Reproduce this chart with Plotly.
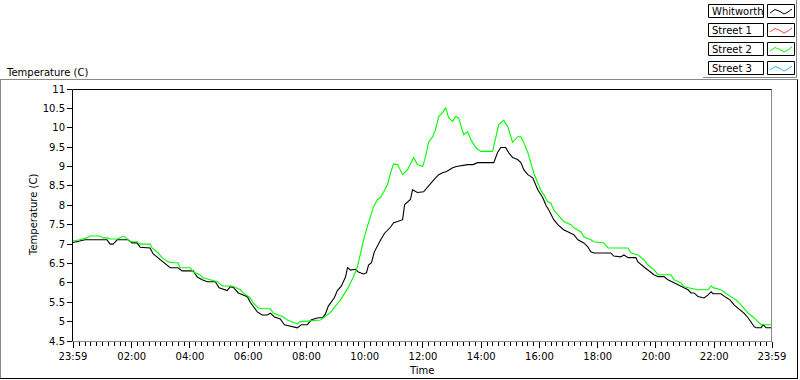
import plotly.graph_objects as go

# ---------------- data ----------------
# time in hours since midnight (-0.02 = 23:59 of previous day)
whitworth_hours = [-0.02, 0.22, 0.40, 1.15, 1.26, 1.36, 1.50, 1.87, 2.01, 2.18, 2.29, 2.63, 2.73, 2.98,
                   3.15, 3.32, 3.59, 3.73, 4.11, 4.25, 4.42, 4.59, 4.87, 5.00, 5.28, 5.38, 5.49, 5.66,
                   5.97, 6.07, 6.31, 6.48, 6.66, 6.76, 6.90, 7.10, 7.24, 7.55, 7.69, 7.82, 8.03, 8.17,
                   8.41, 8.55, 8.65, 8.75, 8.82, 8.96, 9.06, 9.20, 9.34, 9.41, 9.51, 9.68, 9.78, 9.96,
                   10.06, 10.13, 10.23, 10.33, 10.54, 10.68, 10.89, 10.99, 11.13, 11.30, 11.37, 11.57,
                   11.64, 11.81, 12.02, 12.16, 12.29, 12.43, 12.54, 12.67, 12.81, 13.02, 13.15, 13.53,
                   13.71, 13.88, 14.43, 14.56, 14.67, 14.84, 14.94, 15.08, 15.25, 15.36, 15.46, 15.60,
                   15.77, 15.94, 16.11, 16.22, 16.32, 16.39, 16.49, 16.63, 16.83, 16.97, 17.18, 17.32,
                   17.52, 17.66, 17.76, 17.87, 18.45, 18.55, 18.79, 18.90, 19.04, 19.31, 19.38, 19.59,
                   19.72, 19.93, 20.07, 20.27, 20.41, 20.62, 20.86, 21.10, 21.20, 21.31, 21.44, 21.65,
                   21.79, 21.89, 21.96, 22.23, 22.41, 22.54, 22.68, 22.82, 23.02, 23.16, 23.37, 23.44,
                   23.61, 23.68, 23.78, 23.95, 23.98]
whitworth_temp = [7.04, 7.07, 7.11, 7.11, 7.00, 7.00, 7.11, 7.11, 7.03, 7.03, 6.92, 6.90, 6.75, 6.60,
                  6.50, 6.39, 6.39, 6.31, 6.31, 6.15, 6.08, 6.03, 6.03, 5.87, 5.80, 5.90, 5.88, 5.74,
                  5.64, 5.50, 5.25, 5.17, 5.17, 5.22, 5.12, 5.07, 4.92, 4.87, 4.84, 4.92, 4.92, 5.05,
                  5.10, 5.10, 5.20, 5.40, 5.48, 5.62, 5.80, 5.92, 6.15, 6.40, 6.33, 6.35, 6.28, 6.23,
                  6.26, 6.46, 6.52, 6.80, 7.10, 7.28, 7.44, 7.55, 7.58, 7.63, 8.02, 8.15,
                  8.40, 8.33, 8.35, 8.48, 8.58, 8.71, 8.79, 8.84, 8.87, 8.97, 9.00, 9.05,
                  9.05, 9.10, 9.10, 9.36, 9.49, 9.49, 9.36, 9.23, 9.18, 9.10, 8.92, 8.79,
                  8.71, 8.40, 8.20, 8.00, 7.88, 7.76, 7.63, 7.50, 7.37, 7.32, 7.24, 7.11,
                  7.03, 6.93, 6.80, 6.77, 6.77, 6.69, 6.67, 6.72, 6.65, 6.65, 6.54, 6.41,
                  6.34, 6.21, 6.16, 6.16, 6.08, 6.00, 5.90, 5.82, 5.74, 5.74, 5.65, 5.61,
                  5.69, 5.77, 5.72, 5.72, 5.62, 5.56, 5.43, 5.35, 5.22, 5.10, 4.87, 4.84,
                  4.84, 4.92, 4.84, 4.84, 4.87]

street2_hours = [-0.02, 0.22, 0.46, 0.57, 0.91, 1.02, 1.15, 1.26, 1.50, 1.67, 1.77, 1.94, 2.18, 2.29,
                 2.63, 2.70, 2.91, 3.04, 3.25, 3.39, 3.59, 3.66, 4.01, 4.11, 4.35, 4.45, 4.94, 5.11,
                 5.45, 5.55, 5.73, 5.83, 6.07, 6.17, 6.35, 6.48, 6.76, 6.86, 7.21, 7.34, 7.69, 7.79,
                 8.48, 8.58, 8.82, 8.99, 9.17, 9.41, 9.61, 9.75, 9.85, 9.96, 10.09, 10.30, 10.44,
                 10.54, 10.64, 10.78, 10.89, 10.99, 11.13, 11.30, 11.47, 11.68, 11.81, 11.99, 12.09,
                 12.19, 12.33, 12.43, 12.54, 12.67, 12.78, 12.88, 13.02, 13.12, 13.22, 13.40, 13.53,
                 13.64, 13.81, 13.98, 14.39, 14.50, 14.60, 14.77, 14.91, 15.08, 15.25, 15.36, 15.46,
                 15.60, 15.70, 15.80, 15.94, 16.04, 16.15, 16.28, 16.39, 16.49, 16.63, 16.73, 16.83,
                 17.08, 17.18, 17.42, 17.52, 17.76, 17.87, 18.21, 18.35, 19.04, 19.14, 19.38, 19.59,
                 19.72, 19.93, 20.07, 20.51, 20.62, 20.86, 20.96, 21.44, 21.79, 21.89, 21.99, 22.23,
                 22.41, 22.58, 22.75, 22.92, 23.02, 23.16, 23.33, 23.51, 23.61, 23.98]
street2_temp = [7.08, 7.11, 7.16, 7.21, 7.21, 7.16, 7.16, 7.13, 7.13, 7.19, 7.19, 7.06, 7.06, 7.00,
                7.00, 6.90, 6.77, 6.65, 6.54, 6.52, 6.52, 6.39, 6.39, 6.28, 6.20, 6.13, 6.03, 5.92,
                5.92, 5.88, 5.82, 5.74, 5.61, 5.48, 5.35, 5.33, 5.33, 5.22, 5.12, 5.04, 4.94, 5.00,
                5.04, 5.10, 5.23, 5.40, 5.56, 5.85, 6.15, 6.41, 6.75, 7.11, 7.45, 7.96, 8.15,
                8.20, 8.33, 8.53, 8.84, 9.07, 9.05, 8.79, 8.92, 9.23, 9.05, 9.00, 9.26,
                9.62, 9.77, 9.95, 10.29, 10.39, 10.52, 10.26, 10.16, 10.29, 10.26, 9.82, 9.90,
                9.70, 9.49, 9.39, 9.39, 9.77, 10.08, 10.19, 10.03, 9.62, 9.77, 9.77, 9.62,
                9.36, 9.10, 8.84, 8.58, 8.40, 8.27, 8.09, 8.06, 7.88, 7.76, 7.68, 7.58,
                7.50, 7.42, 7.32, 7.19, 7.11, 7.06, 7.03, 6.90, 6.90, 6.77, 6.72, 6.59,
                6.46, 6.34, 6.21, 6.21, 6.08, 6.00, 5.90, 5.82, 5.82, 5.92, 5.87, 5.82,
                5.72, 5.65, 5.56, 5.43, 5.35, 5.22, 5.12, 5.00, 4.92, 4.92]

series_names = ["Whitworth", "Street 1", "Street 2", "Street 3"]
series_colors = ["#000000", "#ff4040", "#00ff00", "#30b8ff"]

x_tick_vals = [-1 / 60, 2, 4, 6, 8, 10, 12, 14, 16, 18, 20, 22, 24 - 1 / 60]
x_tick_text = ["23:59", "02:00", "04:00", "06:00", "08:00", "10:00", "12:00",
               "14:00", "16:00", "18:00", "20:00", "22:00", "23:59"]

# ---------------- geometry helpers (pixel -> paper) ----------------
W, H = 800, 380
L, R, T, B = 73, 772, 89, 341


def px(x):
    return (x - L) / (R - L)


def py(y):
    return (B - y) / (B - T)


FONT = "DejaVu Sans"
FS = 10

fig = go.Figure()
fig.add_trace(go.Scatter(x=whitworth_hours, y=whitworth_temp, mode="lines",
                         line=dict(color=series_colors[0], width=1.1), name=series_names[0],
                         showlegend=False))
fig.add_trace(go.Scatter(x=street2_hours, y=street2_temp, mode="lines",
                         line=dict(color=series_colors[2], width=1.1), name=series_names[2],
                         showlegend=False))

shapes = []


def line(x0, y0, x1, y1, color, width=1):
    shapes.append(dict(type="line", xref="paper", yref="paper",
                       x0=px(x0), y0=py(y0), x1=px(x1), y1=py(y1),
                       line=dict(color=color, width=width)))


# outer frame
line(0, 79.5, 797.5, 79.5, "#8a8a8a")
line(0.5, 79.5, 0.5, 378.5, "#8a8a8a")
line(0, 378.5, 798, 378.5, "#000000")
line(797.5, 79.5, 797.5, 378.5, "#000000")
# plot frame
line(72.5, 89.5, 772, 89.5, "#000000")
line(72.5, 89.5, 72.5, 341.5, "#000000")
line(771.5, 89.5, 771.5, 341.5, "#8a8a8a")
line(72.5, 341.5, 772, 341.5, "#8a8a8a")

annotations = []
# legend
row_top = [4, 23, 42, 61]
for name, color, top in zip(series_names, series_colors, row_top):
    shapes.append(dict(type="rect", xref="paper", yref="paper",
                       x0=px(708.5), x1=px(763.5), y0=py(top + 0.5), y1=py(top + 13.5),
                       line=dict(color="#000000", width=1), fillcolor="white"))
    shapes.append(dict(type="rect", xref="paper", yref="paper",
                       x0=px(767.5), x1=px(794.5), y0=py(top + 0.5), y1=py(top + 13.5),
                       line=dict(color="#000000", width=1), fillcolor="white"))
    zx = [770, 775, 780, 784, 788, 792]
    zy = [9, 5.5, 7.5, 10, 8, 5]
    path = "M " + " L ".join(f"{px(a)},{py(top + b)}" for a, b in zip(zx, zy))
    shapes.append(dict(type="path", xref="paper", yref="paper", path=path,
                       line=dict(color=color, width=1)))
    annotations.append(dict(text=name, xref="paper", yref="paper", x=px(710), y=py(top + 7.5),
                            xanchor="left", yanchor="middle", showarrow=False,
                            font=dict(family=FONT, size=FS, color="black")))
# legend frame
line(703, 77.5, 796.5, 77.5, "#8a8a8a")
line(796.5, 0, 796.5, 77.5, "#8a8a8a")

annotations.append(dict(text="Temperature (C)", xref="paper", yref="paper", x=px(4), y=py(72),
                        xanchor="left", yanchor="middle", showarrow=False,
                        font=dict(family=FONT, size=FS, color="black")))
annotations.append(dict(text="Temperature (C)", xref="paper", yref="paper", x=px(33), y=py(215),
                        xanchor="center", yanchor="middle", showarrow=False, textangle=-90,
                        font=dict(family=FONT, size=FS, color="black")))
annotations.append(dict(text="Time", xref="paper", yref="paper", x=px(421), y=py(370),
                        xanchor="center", yanchor="middle", showarrow=False,
                        font=dict(family=FONT, size=FS, color="black")))

fig.update_layout(
    width=W, height=H, autosize=False,
    margin=dict(l=L, r=W - R, t=T, b=H - B, pad=0),
    paper_bgcolor="white", plot_bgcolor="white",
    font=dict(family=FONT, size=FS, color="black"),
    shapes=shapes, annotations=annotations, showlegend=False,
    xaxis=dict(range=[-1 / 60, 24 - 1 / 60], tickmode="array", tickvals=x_tick_vals,
               ticktext=x_tick_text, ticks="outside", ticklen=6, tickcolor="black",
               tickwidth=1, showgrid=False, zeroline=False, showline=False,
               tickfont=dict(family=FONT, size=FS, color="black"),
               minor=dict(ticks="outside", ticklen=4, tickcolor="black", tickmode="linear",
                          tick0=0, dtick=0.2, showgrid=False)),
    yaxis=dict(range=[4.5, 11], tickmode="linear", tick0=4.5, dtick=0.5, ticks="outside",
               ticklen=5, tickcolor="black", showgrid=False, zeroline=False, showline=False,
               tickfont=dict(family=FONT, size=FS, color="black")),
)

fig.write_html("out.html", config={"displayModeBar": False},
               post_script="document.body.style.margin='0';document.body.style.overflow='hidden';")
